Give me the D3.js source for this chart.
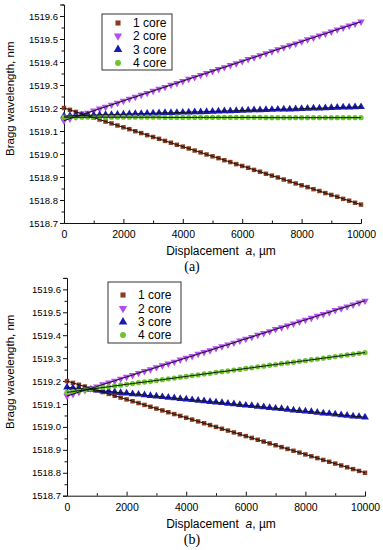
<!DOCTYPE html>
<html>
<head>
<meta charset="utf-8">
<script src="https://cdn.jsdelivr.net/npm/d3@7"></script>
<style>
  body { margin: 0; background: #fff; }
  text { font-family: "Liberation Sans", Arial, sans-serif; fill: #000; }
</style>
</head>
<body>
<div id="chart"></div>
<script>
// displacement grid, um
var displacement = [0, 200, 400, 600, 800, 1000, 1200, 1400, 1600, 1800, 2000, 2200, 2400, 2600, 2800, 3000,
  3200, 3400, 3600, 3800, 4000, 4200, 4400, 4600, 4800, 5000, 5200, 5400, 5600, 5800, 6000, 6200, 6400,
  6600, 6800, 7000, 7200, 7400, 7600, 7800, 8000, 8200, 8400, 8600, 8800, 9000, 9200, 9400, 9600, 9800, 10000];

var seriesNames = ["1 core", "2 core", "3 core", "4 core"];
var yTicks = [1518.7, 1518.8, 1518.9, 1519.0, 1519.1, 1519.2, 1519.3, 1519.4, 1519.5, 1519.6];
var xTicks = [0, 2000, 4000, 6000, 8000, 10000];

// panel (a)
var a1core = [1519.200, 1519.192, 1519.183, 1519.175, 1519.166, 1519.158, 1519.150, 1519.141, 1519.133, 1519.124,
  1519.116, 1519.108, 1519.099, 1519.091, 1519.082, 1519.074, 1519.066, 1519.057, 1519.049, 1519.040,
  1519.032, 1519.024, 1519.015, 1519.007, 1518.998, 1518.990, 1518.982, 1518.973, 1518.965, 1518.956,
  1518.948, 1518.940, 1518.931, 1518.923, 1518.914, 1518.906, 1518.898, 1518.889, 1518.881, 1518.872,
  1518.864, 1518.856, 1518.847, 1518.839, 1518.830, 1518.822, 1518.814, 1518.805, 1518.797, 1518.788, 1518.780];
var a2core = [1519.145, 1519.154, 1519.162, 1519.171, 1519.179, 1519.188, 1519.197, 1519.205, 1519.214, 1519.222,
  1519.231, 1519.240, 1519.248, 1519.257, 1519.265, 1519.274, 1519.283, 1519.291, 1519.300, 1519.308,
  1519.317, 1519.326, 1519.334, 1519.343, 1519.351, 1519.360, 1519.369, 1519.377, 1519.386, 1519.394,
  1519.403, 1519.412, 1519.420, 1519.429, 1519.437, 1519.446, 1519.455, 1519.463, 1519.472, 1519.480,
  1519.489, 1519.498, 1519.506, 1519.515, 1519.523, 1519.532, 1519.541, 1519.549, 1519.558, 1519.566, 1519.575];
var a3core = [1519.165, 1519.166, 1519.167, 1519.167, 1519.168, 1519.169, 1519.170, 1519.171, 1519.171, 1519.172,
  1519.173, 1519.174, 1519.175, 1519.175, 1519.176, 1519.177, 1519.178, 1519.179, 1519.179, 1519.180,
  1519.181, 1519.182, 1519.183, 1519.183, 1519.184, 1519.185, 1519.186, 1519.187, 1519.187, 1519.188,
  1519.189, 1519.190, 1519.191, 1519.191, 1519.192, 1519.193, 1519.194, 1519.195, 1519.195, 1519.196,
  1519.197, 1519.198, 1519.199, 1519.199, 1519.200, 1519.201, 1519.202, 1519.203, 1519.203, 1519.204, 1519.205];
var a4core = [1519.160, 1519.160, 1519.160, 1519.160, 1519.160, 1519.160, 1519.160, 1519.160, 1519.160, 1519.160,
  1519.160, 1519.160, 1519.160, 1519.160, 1519.160, 1519.160, 1519.160, 1519.159, 1519.159, 1519.159,
  1519.159, 1519.159, 1519.159, 1519.159, 1519.159, 1519.159, 1519.159, 1519.159, 1519.159, 1519.159,
  1519.159, 1519.159, 1519.159, 1519.159, 1519.158, 1519.158, 1519.158, 1519.158, 1519.158, 1519.158,
  1519.158, 1519.158, 1519.158, 1519.158, 1519.158, 1519.158, 1519.158, 1519.158, 1519.158, 1519.158, 1519.158];

// panel (b)
var b1core = [1519.200, 1519.192, 1519.184, 1519.176, 1519.168, 1519.160, 1519.152, 1519.144, 1519.136, 1519.128,
  1519.120, 1519.112, 1519.104, 1519.096, 1519.088, 1519.080, 1519.072, 1519.064, 1519.056, 1519.048,
  1519.040, 1519.032, 1519.024, 1519.016, 1519.008, 1519.000, 1518.992, 1518.984, 1518.976, 1518.968,
  1518.960, 1518.952, 1518.944, 1518.936, 1518.928, 1518.920, 1518.912, 1518.904, 1518.896, 1518.888,
  1518.880, 1518.872, 1518.864, 1518.856, 1518.848, 1518.840, 1518.832, 1518.824, 1518.816, 1518.808, 1518.800];
var b2core = [1519.135, 1519.143, 1519.152, 1519.160, 1519.168, 1519.176, 1519.185, 1519.193, 1519.201, 1519.210,
  1519.218, 1519.226, 1519.235, 1519.243, 1519.251, 1519.260, 1519.268, 1519.276, 1519.284, 1519.293,
  1519.301, 1519.309, 1519.318, 1519.326, 1519.334, 1519.343, 1519.351, 1519.359, 1519.367, 1519.376,
  1519.384, 1519.392, 1519.401, 1519.409, 1519.417, 1519.426, 1519.434, 1519.442, 1519.450, 1519.459,
  1519.467, 1519.475, 1519.484, 1519.492, 1519.500, 1519.509, 1519.517, 1519.525, 1519.533, 1519.542, 1519.550];
var b3core = [1519.173, 1519.170, 1519.168, 1519.165, 1519.163, 1519.160, 1519.157, 1519.155, 1519.152, 1519.149,
  1519.147, 1519.144, 1519.142, 1519.139, 1519.136, 1519.134, 1519.131, 1519.128, 1519.126, 1519.123,
  1519.121, 1519.118, 1519.115, 1519.113, 1519.110, 1519.108, 1519.105, 1519.102, 1519.100, 1519.097,
  1519.094, 1519.092, 1519.089, 1519.087, 1519.084, 1519.081, 1519.079, 1519.076, 1519.073, 1519.071,
  1519.068, 1519.066, 1519.063, 1519.060, 1519.058, 1519.055, 1519.052, 1519.050, 1519.047, 1519.045, 1519.042];
var b4core = [1519.151, 1519.154, 1519.158, 1519.161, 1519.165, 1519.168, 1519.172, 1519.175, 1519.179, 1519.182,
  1519.186, 1519.189, 1519.193, 1519.196, 1519.199, 1519.203, 1519.206, 1519.210, 1519.213, 1519.217,
  1519.220, 1519.224, 1519.227, 1519.231, 1519.234, 1519.238, 1519.241, 1519.244, 1519.248, 1519.251,
  1519.255, 1519.258, 1519.262, 1519.265, 1519.269, 1519.272, 1519.276, 1519.279, 1519.282, 1519.286,
  1519.289, 1519.293, 1519.296, 1519.300, 1519.303, 1519.307, 1519.310, 1519.314, 1519.317, 1519.321, 1519.324];

var colors = ["#8c3b1c", "#b44cf2", "#1b1bb0", "#6cc52c"];
var symbols = [d3.symbolSquare, d3.symbolTriangle, d3.symbolTriangle, d3.symbolCircle];
var symbolRotate = [0, 180, 0, 0];
var symbolSize = [20, 24, 26, 22];

var W = 383, H = 550;
var svg = d3.select("#chart").append("svg").attr("width", W).attr("height", H);

var panels = [
  { tag: "(a)", series: [a1core, a2core, a3core, a4core],
    left: 64, right: 361, bottom: 223, top: 4.5,
    legend: { x: 102, y: 14, w: 70, h: 56, mx: 118, tx: 133, rows: [23, 36, 49.5, 63] } },
  { tag: "(b)", series: [b1core, b2core, b3core, b4core],
    left: 67, right: 365, bottom: 495.7, top: 277.9,
    legend: { x: 108, y: 282, w: 73, h: 61, mx: 123, tx: 138, rows: [295, 308.5, 322, 335] } }
];

panels.forEach(function(p) {
  var g = svg.append("g");

  var x = d3.scaleLinear().domain([0, 10000]).range([p.left, p.right]);
  var y = d3.scaleLinear().domain([1518.7, 1519.65]).range([p.bottom, p.top]);

  // x axis: ticks inside
  var xAxis = g.append("g").attr("transform", "translate(0," + p.bottom + ")")
    .call(d3.axisBottom(x).tickValues(xTicks).tickSize(-4).tickPadding(7).tickFormat(d3.format("d")));
  g.append("g").attr("transform", "translate(0," + p.bottom + ")")
    .call(d3.axisBottom(x).tickValues([1000, 3000, 5000, 7000, 9000]).tickSize(-2.5).tickFormat(""))
    .select(".domain").remove();
  xAxis.selectAll("text").attr("font-size", 10.5).attr("dy", "0.75em");

  // y axis: ticks outside
  var yAxis = g.append("g").attr("transform", "translate(" + p.left + ",0)")
    .call(d3.axisLeft(y).tickValues(yTicks).tickSize(4).tickPadding(2).tickFormat(d3.format(".1f")));
  g.append("g").attr("transform", "translate(" + p.left + ",0)")
    .call(d3.axisLeft(y).tickValues(yTicks.map(function(v) { return v + 0.05; })).tickSize(2.5).tickFormat(""))
    .select(".domain").remove();
  yAxis.selectAll("text").attr("font-size", 9.5);
  g.selectAll(".domain").attr("stroke", "#111");
  g.selectAll(".tick line").attr("stroke", "#111");

  // markers
  p.series.forEach(function(vals, si) {
    var sym = d3.symbol().type(symbols[si]).size(symbolSize[si]);
    g.append("g").selectAll("path").data(vals).enter().append("path")
      .attr("d", sym)
      .attr("fill", colors[si])
      .attr("transform", function(d, i) {
        return "translate(" + x(displacement[i]) + "," + y(d) + ") rotate(" + symbolRotate[si] + ")";
      });
  });

  // fitted lines on top of the markers
  p.series.forEach(function(vals) {
    var line = d3.line()
      .x(function(d, i) { return x(displacement[i]); })
      .y(function(d) { return y(d); });
    g.append("path").datum(vals).attr("d", line)
      .attr("fill", "none").attr("stroke", "#111").attr("stroke-width", 1);
  });

  // legend
  var L = p.legend;
  g.append("rect").attr("x", L.x).attr("y", L.y).attr("width", L.w).attr("height", L.h)
    .attr("fill", "#fff").attr("stroke", "#333").attr("stroke-width", 1);
  seriesNames.forEach(function(name, si) {
    g.append("path")
      .attr("d", d3.symbol().type(symbols[si]).size(symbolSize[si] + 6))
      .attr("fill", colors[si])
      .attr("transform", "translate(" + L.mx + "," + L.rows[si] + ") rotate(" + symbolRotate[si] + ")");
    g.append("text").attr("x", L.tx).attr("y", L.rows[si]).attr("dy", "0.36em")
      .attr("font-size", 12).text(name);
  });

  // axis titles
  var yMid = (p.top + p.bottom) / 2 - 15;
  g.append("text")
    .attr("transform", "translate(14," + yMid + ") rotate(-90)")
    .attr("text-anchor", "middle").attr("font-size", 11.5)
    .text("Bragg wavelength, nm");

  var xl = g.append("text").attr("x", 221).attr("y", p.bottom + 32)
    .attr("text-anchor", "middle").attr("font-size", 12);
  xl.append("tspan").text("Displacement\u00a0\u00a0");
  xl.append("tspan").attr("font-style", "italic").text("a");
  xl.append("tspan").text(", \u00b5m");

  g.append("text").attr("x", 192).attr("y", p.bottom + 48)
    .attr("text-anchor", "middle").attr("font-size", 14)
    .style("font-family", "'Liberation Serif', 'Times New Roman', serif")
    .text(p.tag);
});
</script>
</body>
</html>
